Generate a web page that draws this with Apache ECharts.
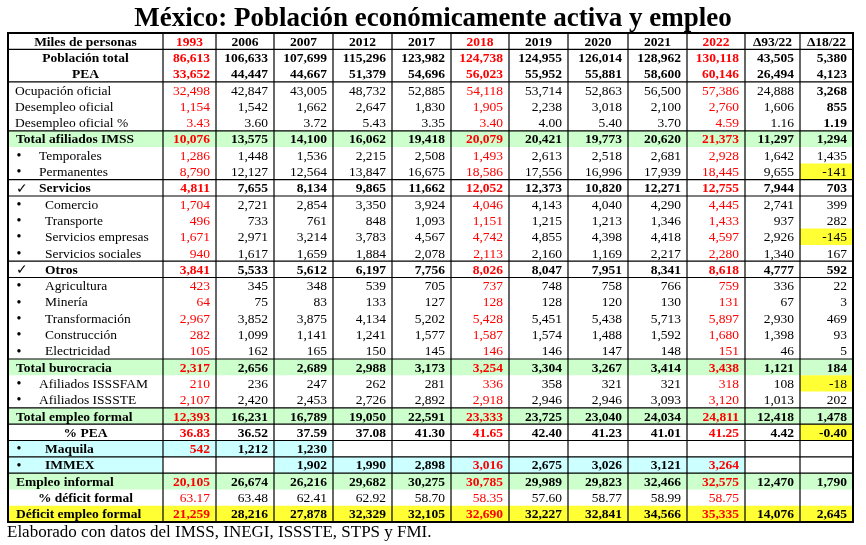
<!DOCTYPE html>
<html><head><meta charset="utf-8">
<script src="https://cdn.jsdelivr.net/npm/echarts@6/dist/echarts.min.js"></script>
<style>html,body{margin:0;padding:0;background:#fff}#c{width:866px;height:545px}</style>
</head><body><div id="c"></div>
<script>
// ---------------- DATA ----------------
const titleText = 'México: Población económicamente activa y empleo';
const sourceText = 'Elaborado con datos del IMSS, INEGI, ISSSTE, STPS y FMI.';
const headerLabel = 'Miles de personas';
const columns = ['1993','2006','2007','2012','2017','2018','2019','2020','2021','2022','Δ93/22','Δ18/22'];
const rowLabels = ['Población total','PEA','Ocupación oficial','Desempleo oficial','Desempleo oficial %',
  'Total afiliados IMSS','Temporales','Permanentes','Servicios','Comercio','Transporte','Servicios empresas',
  'Servicios sociales','Otros','Agricultura','Minería','Transformación','Construcción','Electricidad',
  'Total burocracia','Afiliados ISSSFAM','Afiliados ISSSTE','Total empleo formal','% PEA','Maquila','IMMEX',
  'Empleo informal','% déficit formal','Déficit empleo formal'];
const poblacionTotal   = [86613,106633,107699,115296,123982,124738,124955,126014,128962,130118,43505,5380];
const pea              = [33652,44447,44667,51379,54696,56023,55952,55881,58600,60146,26494,4123];
const ocupacionOficial = [32498,42847,43005,48732,52885,54118,53714,52863,56500,57386,24888,3268];
const desempleoOficial = [1154,1542,1662,2647,1830,1905,2238,3018,2100,2760,1606,855];
const desempleoPct     = [3.43,3.60,3.72,5.43,3.35,3.40,4.00,5.40,3.70,4.59,1.16,1.19];
const totalIMSS        = [10076,13575,14100,16062,19418,20079,20421,19773,20620,21373,11297,1294];
const temporales       = [1286,1448,1536,2215,2508,1493,2613,2518,2681,2928,1642,1435];
const permanentes      = [8790,12127,12564,13847,16675,18586,17556,16996,17939,18445,9655,-141];
const servicios        = [4811,7655,8134,9865,11662,12052,12373,10820,12271,12755,7944,703];
const comercio         = [1704,2721,2854,3350,3924,4046,4143,4040,4290,4445,2741,399];
const transporte       = [496,733,761,848,1093,1151,1215,1213,1346,1433,937,282];
const serviciosEmpresas= [1671,2971,3214,3783,4567,4742,4855,4398,4418,4597,2926,-145];
const serviciosSociales= [940,1617,1659,1884,2078,2113,2160,1169,2217,2280,1340,167];
const otros            = [3841,5533,5612,6197,7756,8026,8047,7951,8341,8618,4777,592];
const agricultura      = [423,345,348,539,705,737,748,758,766,759,336,22];
const mineria          = [64,75,83,133,127,128,128,120,130,131,67,3];
const transformacion   = [2967,3852,3875,4134,5202,5428,5451,5438,5713,5897,2930,469];
const construccion     = [282,1099,1141,1241,1577,1587,1574,1488,1592,1680,1398,93];
const electricidad     = [105,162,165,150,145,146,146,147,148,151,46,5];
const totalBurocracia  = [2317,2656,2689,2988,3173,3254,3304,3267,3414,3438,1121,184];
const isssfam          = [210,236,247,262,281,336,358,321,321,318,108,-18];
const issste           = [2107,2420,2453,2726,2892,2918,2946,2946,3093,3120,1013,202];
const totalFormal      = [12393,16231,16789,19050,22591,23333,23725,23040,24034,24811,12418,1478];
const pctPEA           = [36.83,36.52,37.59,37.08,41.30,41.65,42.40,41.23,41.01,41.25,4.42,-0.40];
const maquila          = [542,1212,1230,null,null,null,null,null,null,null,null,null];
const immex            = [null,null,1902,1990,2898,3016,2675,3026,3121,3264,null,null];
const empleoInformal   = [20105,26674,26216,29682,30275,30785,29989,29823,32466,32575,12470,1790];
const pctDeficit       = [63.17,63.48,62.41,62.92,58.70,58.35,57.60,58.77,58.99,58.75,null,null];
const deficitFormal    = [21259,28216,27878,32329,32105,32690,32227,32841,34566,35335,14076,2645];

const rowValues = [poblacionTotal,pea,ocupacionOficial,desempleoOficial,desempleoPct,totalIMSS,temporales,
  permanentes,servicios,comercio,transporte,serviciosEmpresas,serviciosSociales,otros,agricultura,mineria,
  transformacion,construccion,electricidad,totalBurocracia,isssfam,issste,totalFormal,pctPEA,maquila,immex,
  empleoInformal,pctDeficit,deficitFormal];

// ---------------- STYLE / LAYOUT ----------------
const FONT = '"Liberation Serif","Times New Roman","DejaVu Serif",serif';
const FS = 13.5;
const RED = '#ff0000', GREEN = '#ccffcc', CYAN = '#ccffff', YELLOW = '#ffff33';
const colWidths = [155,53,58,59,59,59,58,59,60,59,58,55,53];
const colEdges = colWidths.reduce((a,w)=>{a.push(a[a.length-1]+w);return a;},[0]);
const TOTAL_W = colEdges[colEdges.length-1];
const redCols = [0,5,9];
// per-row style: b=bold, d=decimals, la=label align, lx=label offset, mk=marker, bg=row bg, bd=bold delta col
const rowStyle = [
  {b:1, la:'center'},{b:1, la:'center'},
  {lx:7, bd:1},{lx:7, bd:1},{lx:7, bd:1, d:2},
  {b:1, lx:8, bg:GREEN},
  {lx:31, mk:'•'},{lx:31, mk:'•', yl:[11]},
  {b:1, lx:31, mk:'✓'},
  {lx:37, mk:'•'},{lx:37, mk:'•'},{lx:37, mk:'•', yl:[11]},{lx:37, mk:'•'},
  {b:1, lx:37, mk:'✓'},
  {lx:37, mk:'•'},{lx:37, mk:'•'},{lx:37, mk:'•'},{lx:37, mk:'•'},{lx:37, mk:'•'},
  {b:1, lx:8, bg:GREEN},
  {lx:31, mk:'•', yl:[11]},{lx:31, mk:'•'},
  {b:1, lx:8, bg:GREEN},
  {b:1, la:'center', d:2, yl:[11]},
  {b:1, lx:37, mk:'•', cy:[-1,0,1,2]},
  {b:1, lx:37, mk:'•', cy:[-1,2,3,4,5,6,7,8,9]},
  {b:1, lx:8, bg:GREEN},
  {la:'center', lb:1, d:2},
  {b:1, lx:8, bg:YELLOW}
];
// horizontal rules: index = boundary above table-row (0 = top of header)
const hRules = [0,1,3,6,9,10,14,15,20,23,24,25,26,27,30];

function fmt(v, d){
  if (v === null || v === undefined) return '';
  if (d) return v.toFixed(d);
  return v.toLocaleString('en-US');
}

// build cells
const cells = [];
cells.push({c:0, r:0, text:headerLabel, bold:true, align:'center', color:'#000'});
columns.forEach((t,i)=>cells.push({c:i+1, r:0, text:t, bold:true, align:'center', color: redCols.includes(i)?RED:'#000'}));
rowLabels.forEach((lab, k)=>{
  const r = k+1, st = rowStyle[k];
  const labBold = !!(st.b || st.lb);
  let bgL = st.bg || (st.cy && st.cy.includes(-1) ? CYAN : null);
  cells.push({c:0, r, text:lab, bold:labBold, align: st.la==='center'?'center':'left', lx:st.lx, mk:st.mk, bg:bgL, color:'#000'});
  rowValues[k].forEach((v,i)=>{
    let bg = st.bg || null;
    if (st.yl && st.yl.includes(i)) bg = YELLOW;
    if (st.cy && st.cy.includes(i)) bg = CYAN;
    const bold = !!(st.b || (st.bd && i===11));
    cells.push({c:i+1, r, text:fmt(v, st.d), bold, align:'right', bg, color: redCols.includes(i)?RED:'#000'});
  });
});

const chart = echarts.init(document.getElementById('c'), null, {renderer:'canvas'});

function cellBox(api, c, r){
  const p0 = api.coord([colEdges[c], r]);
  const p1 = api.coord([colEdges[c+1], r]);
  const h = api.size([0,1])[1];
  return {x0:p0[0], x1:p1[0], yc:p0[1], h};
}

const option = {
  animation:false,
  backgroundColor:'#fff',
  title:[
    {text:titleText, left:'center', top:6, padding:0,
     textStyle:{fontFamily:FONT, fontWeight:'bold', fontSize:27, color:'#000'}},
    {text:sourceText, left:7, top:524, padding:0,
     textStyle:{fontFamily:FONT, fontWeight:'normal', fontSize:17, color:'#000'}}
  ],
  grid:{left:8, top:33, width:TOTAL_W, height:489, containLabel:false},
  xAxis:{type:'value', min:0, max:TOTAL_W, show:false},
  yAxis:{type:'category', data:['header'].concat(rowLabels), inverse:true, show:false},
  series:[
    { // cell backgrounds
      type:'custom', z:1, silent:true,
      data: cells.map(c=>[c.c, c.r]),
      renderItem(params, api){
        const cell = cells[params.dataIndex];
        if (!cell.bg) return null;
        const b = cellBox(api, cell.c, cell.r);
        return {type:'rect', shape:{x:b.x0, y:b.yc-b.h/2, width:b.x1-b.x0, height:b.h}, style:{fill:cell.bg}};
      }
    },
    { // vertical rules
      type:'custom', z:2, silent:true,
      data: colEdges.map((e,i)=>[i, 0]),
      renderItem(params, api){
        const i = params.dataIndex;
        const top = api.coord([colEdges[i], 0]);
        const bot = api.coord([colEdges[i], rowLabels.length]);
        const h = api.size([0,1])[1];
        const outer = (i===0 || i===colEdges.length-1);
        const w = outer ? 2 : 1.2;
        return {type:'rect', shape:{x:top[0]-w/2, y:top[1]-h/2-1, width:w, height:(bot[1]-top[1])+h+2}, style:{fill:'#000'}};
      }
    },
    { // horizontal rules
      type:'custom', z:2, silent:true,
      data: hRules.map(r=>[0, Math.min(r, rowLabels.length)]),
      renderItem(params, api){
        const r = hRules[params.dataIndex];
        const h = api.size([0,1])[1];
        const pr = api.coord([0, Math.min(r, rowLabels.length)]);
        const y = r > rowLabels.length ? pr[1] + h/2 : pr[1] - h/2;
        const xr = api.coord([TOTAL_W, 0])[0];
        const outer = (r===0 || r===rowLabels.length+1);
        const w = outer ? 2 : 1.2;
        return {type:'rect', shape:{x:pr[0]-1, y:y-w/2, width:xr-pr[0]+2, height:w}, style:{fill:'#000'}};
      }
    },
    { // texts
      type:'custom', z:3, silent:true,
      data: cells.map(c=>[c.c, c.r]),
      renderItem(params, api){
        const cell = cells[params.dataIndex];
        const b = cellBox(api, cell.c, cell.r);
        const font = (cell.bold?'bold ':'') + FS + 'px ' + FONT;
        const children = [];
        let x, align = cell.align;
        if (align === 'center') x = (b.x0+b.x1)/2;
        else if (align === 'right') x = b.x1 - 6;
        else x = b.x0 + cell.lx;
        children.push({type:'text', style:{text:cell.text, x, y:b.yc+1, fill:cell.color, font, align, verticalAlign:'middle'}});
        if (cell.mk) {
          children.push({type:'text', style:{text:cell.mk, x:b.x0+ (cell.mk==='✓'?8:11), y:b.yc+1, fill:'#000',
            font:'14px ' + FONT, align: cell.mk==='✓'?'left':'center', verticalAlign:'middle'}});
        }
        return {type:'group', children};
      }
    }
  ]
};
chart.setOption(option);
</script>
</body></html>
